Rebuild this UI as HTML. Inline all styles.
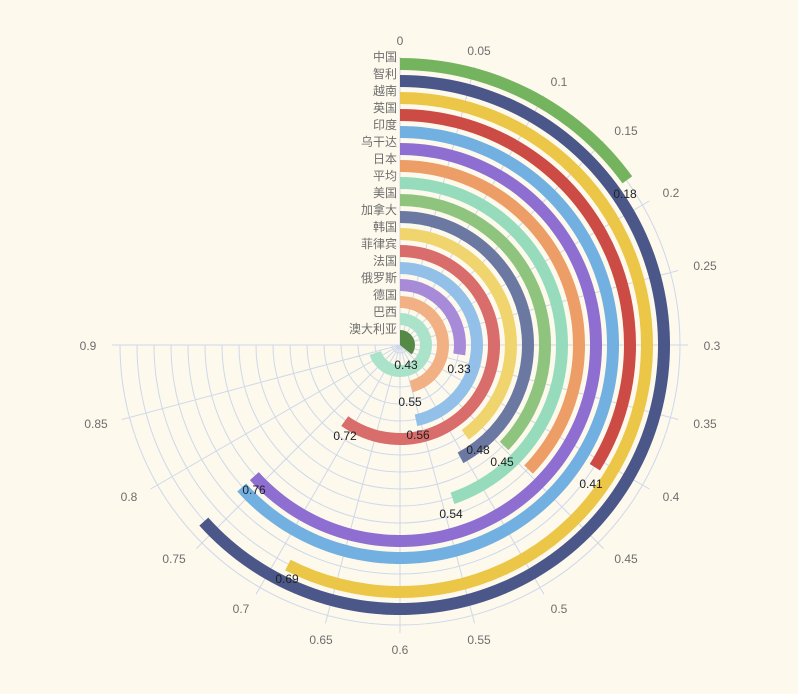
<!DOCTYPE html>
<html><head><meta charset="utf-8"><style>
html,body{margin:0;padding:0;background:#fdf9ed;}
svg{display:block;}
text{font-family:"Liberation Sans","Microsoft YaHei","Noto Sans CJK SC",sans-serif;font-size:12px;}
</style></head><body>
<svg id="s" width="798" height="694" viewBox="0 0 798 694">
<rect width="798" height="694" fill="#fdf9ed"/>
<g id="grid" stroke="#cfd8ea" stroke-width="1" fill="none"></g>
<g id="bars"></g>
<g fill="#6e6e6e" text-anchor="end" dominant-baseline="central">
<text x="397" y="57">中国</text><text x="397" y="74">智利</text><text x="397" y="91">越南</text>
<text x="397" y="108">英国</text><text x="397" y="125">印度</text><text x="397" y="142">乌干达</text>
<text x="397" y="159">日本</text><text x="397" y="176">平均</text><text x="397" y="193">美国</text>
<text x="397" y="210">加拿大</text><text x="397" y="227">韩国</text><text x="397" y="244">菲律宾</text>
<text x="397" y="261">法国</text><text x="397" y="278">俄罗斯</text><text x="397" y="295">德国</text>
<text x="397" y="312">巴西</text><text x="397" y="329">澳大利亚</text>
</g>
<g fill="#6e6e6e" text-anchor="middle" dominant-baseline="central">
<text x="400" y="41">0</text><text x="479" y="51">0.05</text><text x="559" y="82">0.1</text>
<text x="626" y="131">0.15</text><text x="671" y="193">0.2</text><text x="705" y="266">0.25</text>
<text x="712" y="346">0.3</text><text x="705" y="424">0.35</text><text x="671" y="497">0.4</text>
<text x="626" y="559">0.45</text><text x="559" y="609">0.5</text><text x="479" y="640">0.55</text>
<text x="400" y="650">0.6</text><text x="321" y="640">0.65</text><text x="241" y="609">0.7</text>
<text x="174" y="559">0.75</text><text x="129" y="497">0.8</text><text x="96" y="424">0.85</text>
<text x="88" y="346">0.9</text>
</g>
<g fill="#222" text-anchor="middle" dominant-baseline="central">
<text x="625" y="194">0.18</text><text x="591" y="484">0.41</text><text x="502" y="462">0.45</text>
<text x="451" y="514">0.54</text><text x="478" y="450">0.48</text><text x="418" y="435">0.56</text>
<text x="345" y="436">0.72</text><text x="459" y="369">0.33</text><text x="410" y="402">0.55</text>
<text x="406" y="365">0.43</text><text x="254" y="490">0.76</text><text x="287" y="579">0.69</text>
</g>
</svg>
<script>
var cx=400,cy=345,NS="http://www.w3.org/2000/svg";
function pt(r,a){var t=a*Math.PI/180;return [cx+r*Math.sin(t),cy-r*Math.cos(t)];}
var g=document.getElementById('grid'),d="";
for(var k=0;k<17;k++){var r=280-17*k;var p0=pt(r,0),p1=pt(r,270);
 d+="M"+p0[0]+" "+p0[1]+"A"+r+" "+r+" 0 1 1 "+p1[0]+" "+p1[1];}
for(var a=0;a<=270;a+=15){var p=pt(288,a);d+="M"+cx+" "+cy+"L"+p[0]+" "+p[1];}
var e=document.createElementNS(NS,"path");e.setAttribute("d",d);g.appendChild(e);
var data=[["#548a45",0.43],["#aae3c9",0.84],["#f1b184",0.55],["#a78ad8",0.33],["#92c0e8",0.56],["#d86d6b",0.72],["#f0d46e",0.48],["#6b79a2",0.506],["#8fc47e",0.447],["#96dcbc",0.537],["#ed9e66",0.447],["#8e6ed0",0.76],["#72b0e1",0.76],["#cc4b45",0.407],["#ecc646",0.69],["#4a5788",0.76],["#74b45f",0.18]];
var b=document.getElementById('bars');
data.forEach(function(v,i){var ro=15+17*i,ri=i==0?0:ro-12,ang=v[1]*300,lg=ang>180?1:0;
 var a0=pt(ro,0),a1=pt(ro,ang),b1=pt(ri,ang),b0=pt(ri,0);
 var s="M"+a0[0]+" "+a0[1]+"A"+ro+" "+ro+" 0 "+lg+" 1 "+a1[0]+" "+a1[1]+"L"+b1[0]+" "+b1[1];
 if(ri>0)s+="A"+ri+" "+ri+" 0 "+lg+" 0 "+b0[0]+" "+b0[1];
 s+="Z";var p=document.createElementNS(NS,"path");p.setAttribute("d",s);p.setAttribute("fill",v[0]);b.appendChild(p);});
</script>
</body></html>
